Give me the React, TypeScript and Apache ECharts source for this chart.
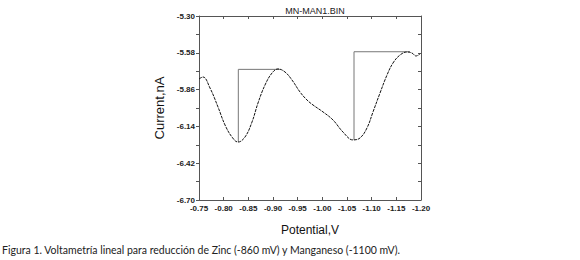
import React, { useEffect, useRef } from "react";
import * as echarts from "echarts";

const potentials = [
  -0.75, -0.7581, -0.7723, -0.7885, -0.8027, -0.8169, -0.8291, -0.8432, -0.8574, -0.8696,
  -0.8838, -0.898, -0.9101, -0.9243, -0.9385, -0.9547, -0.9689, -0.9811, -1.0014, -1.0216,
  -1.0419, -1.0622, -1.0764, -1.0905, -1.1027, -1.1169, -1.1311, -1.1432, -1.1574, -1.1716,
  -1.1818, -1.1899, -1.198,
];
const currents = [
  -5.779, -5.764, -5.848, -5.992, -6.129, -6.221, -6.259, -6.221, -6.107, -5.962,
  -5.825, -5.734, -5.703, -5.726, -5.787, -5.878, -5.939, -5.977, -6.03, -6.091,
  -6.183, -6.243, -6.228, -6.152, -6.03, -5.886, -5.749, -5.658, -5.597, -5.574,
  -5.582, -5.604, -5.589,
];
const zincPeakX = [-0.8297, -0.8297, -0.9142];
const zincPeakY = [-6.259, -5.706, -5.706];
const mnPeakX = [-1.0642, -1.0642, -1.1777];
const mnPeakY = [-6.243, -5.572, -5.572];

const xTicks = { min: -1.2, max: -0.75, interval: 0.05 };
const yTicks = { min: -6.7, max: -5.3, interval: 0.28 };

const titleText = "MN-MAN1.BIN";
const xName = "Potential,V";
const yName = "Current,nA";
const caption =
  "Figura 1. Voltametría lineal para reducción de Zinc (-860 mV) y Manganeso (-1100 mV).";

export default function App() {
  const ref = useRef<HTMLDivElement>(null);
  useEffect(() => {
    if (!ref.current) return;
    const chart = echarts.init(ref.current, null, { renderer: "svg" });
    const axisColor = "#555";
    const font = "Arial, 'Liberation Sans', sans-serif";
    const pair = (xs: number[], ys: number[]) => xs.map((x, i) => [x, ys[i]]);
    chart.setOption({
      animation: false,
      backgroundColor: "#fff",
      title: {
        text: titleText,
        left: 310,
        top: 1,
        textAlign: "center",
        textStyle: { fontSize: 9, fontWeight: "normal", color: "#222", fontFamily: font },
      },
      grid: { left: 199, right: 159, top: 16, bottom: 60, containLabel: false },
      xAxis: [
        {
          type: "value",
          inverse: true,
          min: xTicks.min,
          max: xTicks.max,
          interval: xTicks.interval,
          position: "bottom",
          name: xName,
          nameLocation: "middle",
          nameGap: 24,
          nameTextStyle: { fontSize: 12, color: "#111", fontFamily: font },
          axisLine: { lineStyle: { color: axisColor, width: 1 } },
          axisTick: { inside: true, length: 3, lineStyle: { color: axisColor } },
          axisLabel: {
            fontSize: 8,
            fontWeight: "bold",
            color: "#222",
            margin: 4,
            fontFamily: font,
            formatter: (v: number) => v.toFixed(2),
          },
          splitLine: { show: false },
        },
        {
          type: "value",
          inverse: true,
          min: xTicks.min,
          max: xTicks.max,
          interval: xTicks.interval,
          position: "top",
          axisLine: { lineStyle: { color: axisColor, width: 1 } },
          axisTick: { inside: true, length: 3, lineStyle: { color: axisColor } },
          axisLabel: { show: false },
          splitLine: { show: false },
        },
      ],
      yAxis: [
        {
          type: "value",
          min: yTicks.min,
          max: yTicks.max,
          interval: yTicks.interval,
          position: "left",
          name: yName,
          nameLocation: "middle",
          nameGap: 33,
          nameRotate: 90,
          nameTextStyle: { fontSize: 13, color: "#111", fontFamily: font },
          axisLine: { show: true, lineStyle: { color: axisColor, width: 1 } },
          axisTick: { show: true, length: 3, lineStyle: { color: axisColor } },
          minorTick: { show: true, splitNumber: 2, length: 3, lineStyle: { color: axisColor } },
          axisLabel: {
            fontSize: 8,
            fontWeight: "bold",
            color: "#222",
            margin: 4,
            fontFamily: font,
            formatter: (v: number) => v.toFixed(2),
          },
          splitLine: { show: false },
          minorSplitLine: { show: false },
        },
        {
          type: "value",
          min: yTicks.min,
          max: yTicks.max,
          interval: yTicks.interval,
          position: "right",
          axisLine: { show: true, lineStyle: { color: axisColor, width: 1 } },
          axisTick: { show: true, inside: true, length: 3, lineStyle: { color: axisColor } },
          minorTick: { show: true, splitNumber: 2, length: 3, lineStyle: { color: axisColor } },
          axisLabel: { show: false },
          splitLine: { show: false },
          minorSplitLine: { show: false },
        },
      ],
      series: [
        {
          type: "line",
          data: pair(zincPeakX, zincPeakY),
          showSymbol: false,
          lineStyle: { color: "#777", width: 1 },
          silent: true,
        },
        {
          type: "line",
          data: pair(mnPeakX, mnPeakY),
          showSymbol: false,
          lineStyle: { color: "#777", width: 1 },
          silent: true,
        },
        {
          type: "line",
          data: pair(potentials, currents),
          smooth: 0.4,
          showSymbol: false,
          lineStyle: { color: "#111", width: 1, type: [3, 1] },
        },
      ],
      graphic: [
        {
          type: "text",
          left: 2,
          top: 244,
          style: {
            text: caption,
            fontSize: 10.5,
            fontFamily: "Lato, 'Liberation Sans', sans-serif",
            fill: "#222",
          },
        },
      ],
    });
    return () => chart.dispose();
  }, []);
  return (
    <div
      ref={ref}
      style={{ position: "absolute", left: 0, top: 0, width: 580, height: 260 }}
    />
  );
}
